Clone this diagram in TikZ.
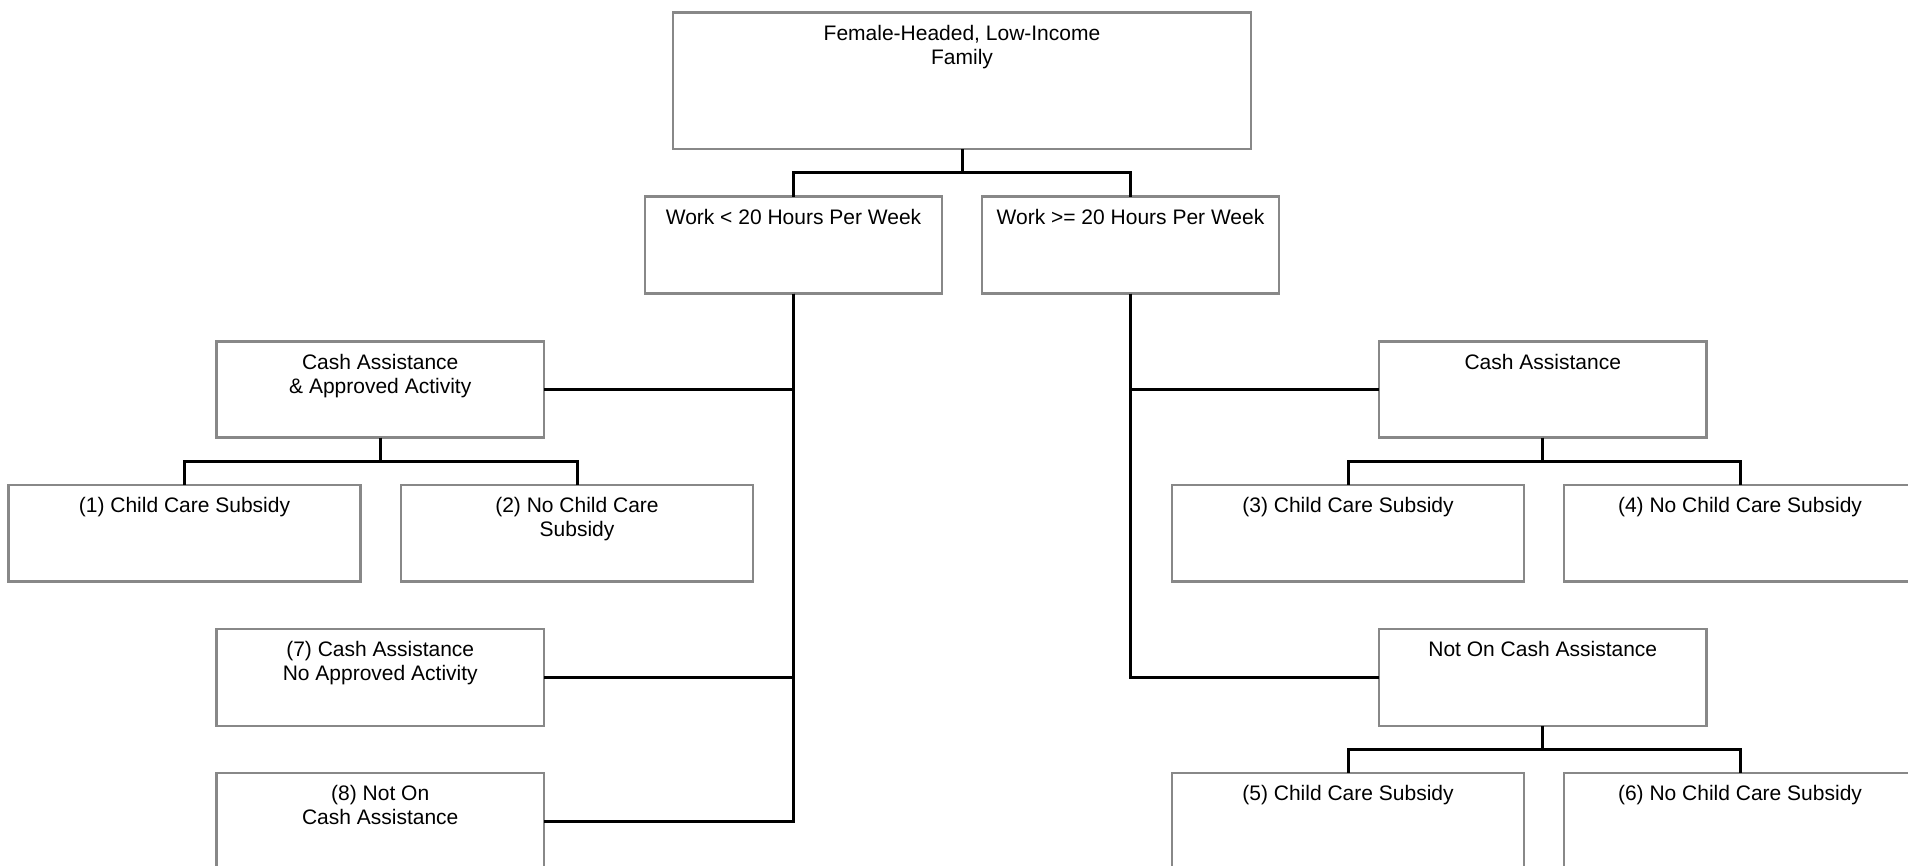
\documentclass[tikz,border=0pt]{standalone}
\usepackage{fontspec}
\setmainfont{Liberation Sans}
\usetikzlibrary{calc}
\definecolor{boxgray}{RGB}{136,136,136}
\begin{document}
\begin{tikzpicture}[x=1pt,y=1pt,
  box/.style n args={2}{draw=boxgray, line width=2.6pt, minimum width=#1, minimum height=#2, inner sep=0pt, outer sep=0pt, anchor=north west},
  lbl/.style={font=\fontsize{21}{24}\selectfont, align=center, inner sep=0pt, anchor=north},
  conn/.style={draw=black, line width=3pt}]
\useasboundingbox (0,0) rectangle (1908,-865);
\clip (0,0) rectangle (1908,-865);
% boxes
\node[box={578pt}{136.3pt}] (top) at (673,-12.7) {};
\node[box={297pt}{97pt}] (wlt) at (645,-196.7) {};
\node[box={297pt}{97pt}] (wge) at (982,-196.7) {};
\node[box={327.5pt}{96pt}] (caa) at (216.5,-341.7) {};
\node[box={327.5pt}{96pt}] (car) at (1379,-341.7) {};
\node[box={352pt}{96.7pt}] (s1) at (8.5,-485) {};
\node[box={352pt}{96.7pt}] (s2) at (401,-485) {};
\node[box={352pt}{96.7pt}] (s3) at (1172,-485) {};
\node[box={352pt}{96.7pt}] (s4) at (1564,-485) {};
\node[box={327.5pt}{97pt}] (cal7) at (216.5,-629) {};
\node[box={327.5pt}{97pt}] (ncr) at (1379,-629) {};
\node[box={327.5pt}{97pt}] (cal8) at (216.5,-773) {};
\node[box={352pt}{97pt}] (s5) at (1172,-773) {};
\node[box={352pt}{97pt}] (s6) at (1564,-773) {};
% labels
\node[lbl] (ttop) at ([yshift=-12.3pt]top.north) {Female-Headed, Low-Income\\Family};
\node[lbl] (twlt) at ([yshift=-12.3pt]wlt.north) {Work < 20 Hours Per Week};
\node[lbl] (twge) at ([yshift=-12.3pt]wge.north) {Work >= 20 Hours Per Week};
\node[lbl] (tcaa) at ([yshift=-12.3pt]caa.north) {Cash Assistance\\\& Approved Activity};
\node[lbl] (tcar) at ([yshift=-12.3pt]car.north) {Cash Assistance};
\node[lbl] (ts1) at ([yshift=-12.3pt]s1.north) {(1) Child Care Subsidy};
\node[lbl] (ts2) at ([yshift=-12.3pt]s2.north) {(2) No Child Care\\Subsidy};
\node[lbl] (ts3) at ([yshift=-12.3pt]s3.north) {(3) Child Care Subsidy};
\node[lbl] (ts4) at ([yshift=-12.3pt]s4.north) {(4) No Child Care Subsidy};
\node[lbl] (tcal7) at ([yshift=-12.3pt]cal7.north) {(7) Cash Assistance\\No Approved Activity};
\node[lbl] (tncr) at ([yshift=-12.3pt]ncr.north) {Not On Cash Assistance};
\node[lbl] (tcal8) at ([yshift=-12.3pt]cal8.north) {(8) Not On\\Cash Assistance};
\node[lbl] (ts5) at ([yshift=-12.3pt]s5.north) {(5) Child Care Subsidy};
\node[lbl] (ts6) at ([yshift=-12.3pt]s6.north) {(6) No Child Care Subsidy};
% connectors
\draw[conn] (top.south) -- ++(0,-23.8) -| (wlt.north);
\draw[conn] (top.south) -- ++(0,-23.8) -| (wge.north);
\draw[conn] (wlt.south) |- (caa.east);
\draw[conn] (wlt.south) |- (cal7.east);
\draw[conn] (wlt.south) |- (cal8.east);
\draw[conn] (wge.south) |- (car.west);
\draw[conn] (wge.south) |- (ncr.west);
\draw[conn] (caa.south) -- ++(0,-23.8) -| (s1.north);
\draw[conn] (caa.south) -- ++(0,-23.8) -| (s2.north);
\draw[conn] (car.south) -- ++(0,-23.8) -| (s3.north);
\draw[conn] (car.south) -- ++(0,-23.8) -| (s4.north);
\draw[conn] (ncr.south) -- ++(0,-23.5) -| (s5.north);
\draw[conn] (ncr.south) -- ++(0,-23.5) -| (s6.north);
\end{tikzpicture}
\end{document}
